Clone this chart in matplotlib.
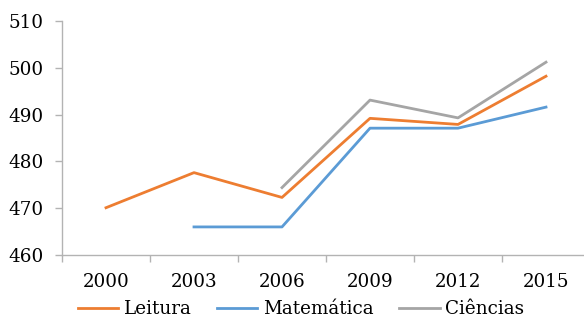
import numpy as np
import matplotlib.pyplot as plt

anos = ['2000', '2003', '2006', '2009', '2012', '2015']
leitura = [470.1, 477.6, 472.3, 489.2, 487.9, 498.2]
matematica = [np.nan, 466.0, 466.0, 487.1, 487.1, 491.6]
ciencias = [np.nan, np.nan, 474.4, 493.1, 489.3, 501.2]

cor_eixo = '#b3b3b3'
plt.rcParams['font.family'] = ['DejaVu Serif']

fig = plt.figure(figsize=(5.84, 3.2), dpi=100)
# the axes run slightly past the right edge of the figure
ax = fig.add_axes([62 / 584, 65 / 320, 528 / 584, 234 / 320])

x = np.arange(len(anos))
ax.plot(x, leitura, color='#ED7D31', linewidth=2.0, label='Leitura')
ax.plot(x, matematica, color='#5B9BD5', linewidth=2.0, label='Matemática')
ax.plot(x, ciencias, color='#A5A5A5', linewidth=2.0, label='Ciências')

ax.set_xlim(-0.5, len(anos) - 0.5)
ax.set_ylim(460, 510)
ax.set_yticks(np.arange(460, 511, 10))
ax.set_xticks(x)
ax.set_xticklabels(anos)
ax.set_xticks(np.arange(-0.5, len(anos), 1), minor=True)

for s in ['top', 'right']:
    ax.spines[s].set_visible(False)
for s in ['left', 'bottom']:
    ax.spines[s].set_color(cor_eixo)
    ax.spines[s].set_linewidth(1.0)

ax.tick_params(axis='x', which='major', length=0, pad=13, labelsize=13.2)
ax.tick_params(axis='x', which='minor', length=5, color=cor_eixo, width=1.0)
ax.tick_params(axis='y', length=5, color=cor_eixo, width=1.0, pad=8, labelsize=13.2)

fig.legend(loc='center', bbox_to_anchor=(301 / 584, 11 / 320), ncol=3,
           frameon=False, fontsize=13.2, handlelength=2.2, handletextpad=0.3,
           columnspacing=1.4)

plt.savefig('out.png', dpi=100)
